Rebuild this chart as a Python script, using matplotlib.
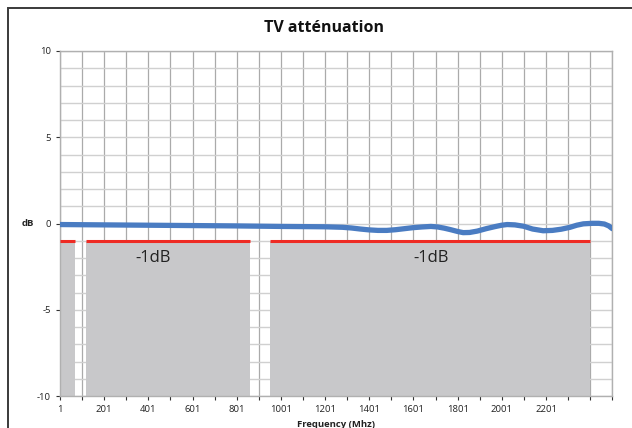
import matplotlib.pyplot as plt
from matplotlib.patches import Rectangle

plt.rcParams['font.family'] = ['Open Sans', 'DejaVu Sans']
plt.rcParams['axes.unicode_minus'] = False

# measured attenuation (MHz, dB)
freq = [1, 200, 400, 600, 800, 1000, 1100, 1200, 1280, 1320, 1360, 1400,
        1440, 1480, 1520, 1560, 1600, 1640, 1680, 1710, 1740, 1770, 1800,
        1826, 1855, 1890, 1930, 1970, 2000, 2025, 2060, 2100, 2140, 2188,
        2230, 2270, 2310, 2340, 2370, 2410, 2440, 2465, 2485, 2501]
atten = [-0.06, -0.08, -0.1, -0.12, -0.14, -0.17, -0.18, -0.19, -0.22, -0.26,
         -0.32, -0.37, -0.4, -0.4, -0.36, -0.3, -0.24, -0.2, -0.17, -0.2,
         -0.27, -0.36, -0.46, -0.53, -0.52, -0.44, -0.3, -0.18, -0.1, -0.06,
         -0.08, -0.16, -0.32, -0.42, -0.4, -0.33, -0.22, -0.1, -0.02, 0.01,
         0.01, -0.03, -0.14, -0.3]

# -1 dB mask bands (start, end)
band_start = [1, 118, 952]
band_end = [68, 861, 2401]
band_level = -1
band_labels = [(423, '-1dB'), (1682, '-1dB')]

xticks = list(range(1, 2502, 100))
xlabels = [str(t) if (t - 1) % 200 == 0 and t <= 2201 else '' for t in xticks]

fig = plt.figure(figsize=(6.32, 4.28), dpi=100)
ax = fig.add_axes([60 / 632, 1 - 396 / 428, 552.3 / 632, 345 / 428])

# outer chart frame (cropped on right/bottom)
fig.patches.append(Rectangle((8 / 632, -0.1), 1.2, 1 - 8 / 428 + 0.1,
                             transform=fig.transFigure, fill=False,
                             edgecolor='#3a3a3a', linewidth=1.4))

for s, e in zip(band_start, band_end):
    ax.fill_between([s, e], band_level, -10, color='#c8c8ca', linewidth=0, zorder=2)
    ax.plot([s, e], [band_level, band_level], color='#ee2b24', linewidth=2.2,
            solid_capstyle='butt', zorder=3)

for x, txt in band_labels:
    ax.text(x, -2.0, txt, fontsize=12, color='#222222', ha='center', va='center', zorder=4)

ax.plot(freq, atten, color='#4a7cc2', linewidth=3.8, solid_capstyle='round',
        solid_joinstyle='round', zorder=5)

ax.set_xlim(1, 2501)
ax.set_ylim(-10, 10)
ax.set_xticks(xticks)
ax.set_xticklabels(xlabels)
ax.set_yticks([-10, -5, 0, 5, 10])
ax.set_yticks(range(-10, 11), minor=True)
ax.tick_params(axis='both', labelsize=6.8, colors='#333333', length=3, width=0.8)
ax.tick_params(axis='y', which='minor', length=0)
for lab in ax.get_xticklabels() + ax.get_yticklabels():
    lab.set_color('#222222')

ax.grid(True, axis='x', color='#aaaaaa', linewidth=0.9, zorder=0)
ax.grid(True, axis='y', which='both', color='#d0d0d0', linewidth=1.0, zorder=0)
ax.set_axisbelow(True)
for sp in ax.spines.values():
    sp.set_color('#b0b0b0')
    sp.set_linewidth(1.0)

ax.text(-0.058, 0.5, 'dB', transform=ax.transAxes, fontsize=6.8, fontweight='bold',
        ha='center', va='center', color='#222222')
ax.set_xlabel('Frequency (Mhz)', fontsize=6.8, fontweight='bold', color='#222222', labelpad=4)
fig.text(324 / 632, 1 - 28 / 428, 'TV atténuation', fontsize=11.5, fontweight='bold',
         ha='center', va='center', color='#111111')

fig.savefig('out.png', dpi=100)
